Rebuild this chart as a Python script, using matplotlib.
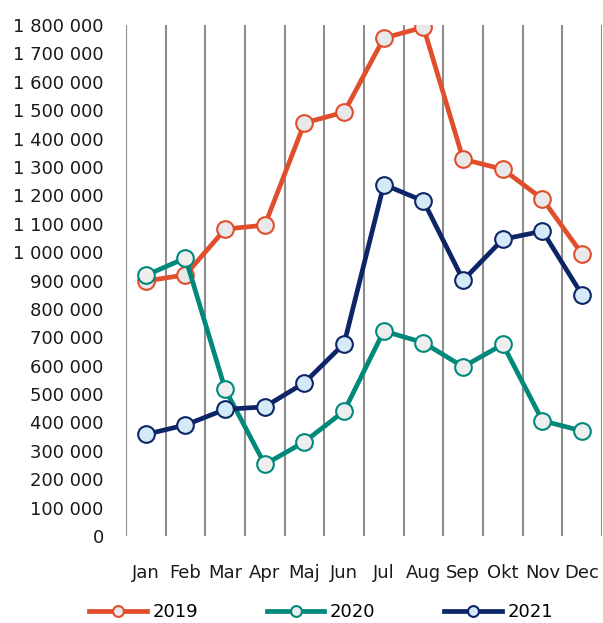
import numpy as np
import matplotlib.pyplot as plt
from matplotlib.ticker import FuncFormatter

# Månader och värden per år
months = ['Jan', 'Feb', 'Mar', 'Apr', 'Maj', 'Jun', 'Jul', 'Aug', 'Sep', 'Okt', 'Nov', 'Dec']
v2019 = [898000, 920000, 1081000, 1095000, 1455000, 1493000, 1754000, 1792000, 1327000, 1292000, 1187000, 993000]
v2020 = [918000, 979000, 517000, 252000, 332000, 440000, 722000, 681000, 596000, 675000, 406000, 370000]
v2021 = [358000, 391000, 446000, 455000, 540000, 678000, 1238000, 1180000, 901000, 1045000, 1074000, 849000]

series = [
    ('2019', v2019, '#E04E2B', '#E8E8E8'),
    ('2020', v2020, '#00897B', '#EEEEEE'),
    ('2021', v2021, '#0B2566', '#D5EAF8'),
]

fig = plt.figure(figsize=(6.03, 6.23), dpi=100)
ax = fig.add_axes([126 / 603, 1 - 536 / 623, 476 / 603, 511 / 623])

x = np.arange(len(months))
for i, (namn, vals, col, face) in enumerate(series):
    ax.plot(x, vals, color=col, lw=3.4, marker='o', markersize=12,
            markerfacecolor=face, markeredgecolor=col, markeredgewidth=1.5,
            label=namn, zorder=3 + i)

# Vertikala linjer mellan kategorierna
for b in np.arange(-0.5, len(months), 1.0):
    ax.axvline(b, color='#8C8C8C', lw=1.5, zorder=1)

ax.set_xlim(-0.5, len(months) - 0.5)
ax.set_ylim(0, 1800000)
ax.set_yticks(np.arange(0, 1800001, 100000))
ax.yaxis.set_major_formatter(FuncFormatter(lambda v, p: f"{int(v):,}".replace(',', ' ')))
ax.set_xticks(x)
ax.set_xticklabels(months)
ax.tick_params(axis='both', length=0, labelsize=13, colors='#1a1a1a')
ax.tick_params(axis='y', pad=16)
ax.tick_params(axis='x', pad=20)
for s in ax.spines.values():
    s.set_visible(False)

ax.legend(loc='upper center', bbox_to_anchor=(0.5 - 43 / 476, -0.1), ncol=3, frameon=False,
          fontsize=13, handlelength=3.2, columnspacing=3.8, handletextpad=0.3,
          markerscale=0.65)

fig.savefig('out.png', dpi=100)
